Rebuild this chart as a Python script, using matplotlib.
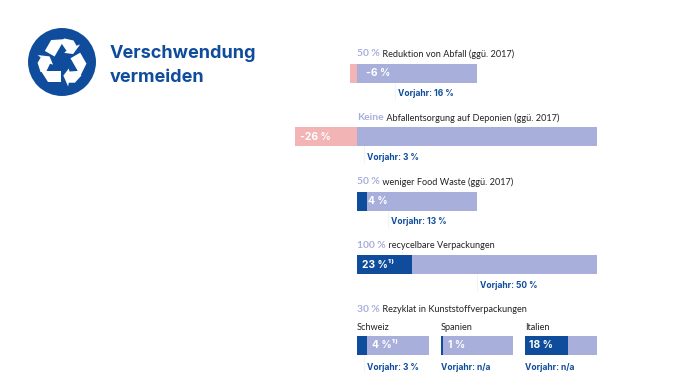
import matplotlib
matplotlib.use("Agg")
import matplotlib.pyplot as plt
from matplotlib.patches import Circle, Polygon
import numpy as np

plt.rcParams["font.family"] = ["Lato", "DejaVu Sans"]

# target, label text and the drawn bar per row
ziele = ["50 %", "Keine", "50 %", "100 %"]
titel = ["Reduktion von Abfall (ggü. 2017)", "Abfallentsorgung auf Deponien (ggü. 2017)",
         "weniger Food Waste (ggü. 2017)", "recycelbare Verpackungen"]
ziel_breite = [50, 100, 50, 100]
werte = [-3, -26, 4, 23]
wert_labels = ["-6 %", "-26 %", "4 %", "23 %¹⁾"]
vorjahr = [16, 3, 13, 50]

# Rezyklat
laender = ["Schweiz", "Spanien", "Italien"]
rez_ziel = 30
rez_werte = [4, 1, 18]
rez_labels = ["4 %¹⁾", "1 %", "18 %"]
rez_vorjahr = [3, None, None]

LILA = "#A8AFDA"
ROSA = "#F3B4B6"
BLAU = "#0F4C9C"
PX = 2.4  # pixel pro prozent


def x_data(px):
    return (px - 357) / PX


fig = plt.figure(figsize=(6.85, 3.86), dpi=100)
ax = fig.add_axes([0, 0, 1, 1])
ax.set_xlim(x_data(0), x_data(685))
ax.set_ylim(386, 0)
ax.axis("off")


def kopf(x_px, y, ziel, text):
    t = ax.text(x_data(x_px), y, ziel, color=LILA, fontsize=7.4, fontweight="bold", va="center")
    ax.annotate(" " + text, xy=(1, 0.5), xycoords=t, va="center", ha="left",
                fontsize=6.55, color="#222222")


def vorjahr_label(x0, wert, y_bar_unten, txt_y):
    if wert is None:
        ax.text(x0, txt_y, "Vorjahr: n/a", color=BLAU, fontsize=6.1, fontweight="bold",
                family="Inter", va="center")
        return
    x = x0 + wert
    ax.plot([x, x], [y_bar_unten, y_bar_unten + 17], color="#EDEEF6", lw=0.5)
    ax.text(x + 1.2, txt_y, f"Vorjahr: {wert} %", color=BLAU, fontsize=6.1,
            fontweight="bold", family="Inter", va="center")


kopf_y = [54, 118, 182, 246]
bar_y = [64, 127, 192, 255]
text_y = [94, 158, 222, 286]
wert_x = [366, 300, 368, 362]
for i in range(len(werte)):
    kopf(357, kopf_y[i], ziele[i], titel[i])
    ax.barh(bar_y[i], ziel_breite[i], height=19, left=0, align="edge", color=LILA)
    farbe = ROSA if werte[i] < 0 else BLAU
    ax.barh(bar_y[i], werte[i], height=19, left=0, align="edge", color=farbe)
    ax.text(x_data(wert_x[i]), bar_y[i] + 9.5, wert_labels[i], color="white", fontsize=7.4,
            fontweight="bold", family=["Inter", "DejaVu Sans"], va="center")
    vorjahr_label(0, vorjahr[i], bar_y[i] + 19, text_y[i])

# Rezyklat in Kunststoffverpackungen
kopf(357, 310, f"{rez_ziel} %", "Rezyklat in Kunststoffverpackungen")
land_x = [357, 441, 525]
rez_text_x = [372, 448, 529]
for i in range(len(laender)):
    x0 = x_data(land_x[i])
    ax.text(x0, 328, laender[i], color="#222222", fontsize=6.55, va="center")
    ax.barh(336, rez_ziel, height=19, left=x0, align="edge", color=LILA)
    ax.barh(336, rez_werte[i], height=19, left=x0, align="edge", color=BLAU)
    ax.text(x_data(rez_text_x[i]), 345.5, rez_labels[i], color="white", fontsize=7.4,
            fontweight="bold", family=["Inter", "DejaVu Sans"], va="center")
    vorjahr_label(x0, rez_vorjahr[i], 355, 367)

# Icon
inset = fig.add_axes([27 / 685, 1 - 97 / 386, 70 / 685, 70 / 386])
inset.set_xlim(-1.03, 1.03)
inset.set_ylim(-1.03, 1.03)
inset.axis("off")
inset.add_patch(Circle((0, 0), 1, color=BLAU, lw=0))
band = [(-0.62, -0.27), (-0.03, -0.27), (-0.03, -0.60), (-0.40, -0.60)]
pfeil = [(0.04, -0.40), (0.20, -0.19), (0.22, -0.28), (0.50, -0.26), (0.57, -0.40),
         (0.38, -0.61), (0.20, -0.61), (0.18, -0.72)]
for winkel in [0, 120, 240]:
    r = np.radians(winkel)
    rot = np.array([[np.cos(r), -np.sin(r)], [np.sin(r), np.cos(r)]])
    for p in [band, pfeil]:
        inset.add_patch(Polygon(np.array(p) @ rot.T, color="white", lw=0))

ax.text(x_data(110), 53, "Verschwendung", color=BLAU, fontsize=13, fontweight="bold",
        family="Inter", va="center")
ax.text(x_data(110), 77, "vermeiden", color=BLAU, fontsize=13, fontweight="bold",
        family="Inter", va="center")

fig.savefig("out.png", dpi=100)
